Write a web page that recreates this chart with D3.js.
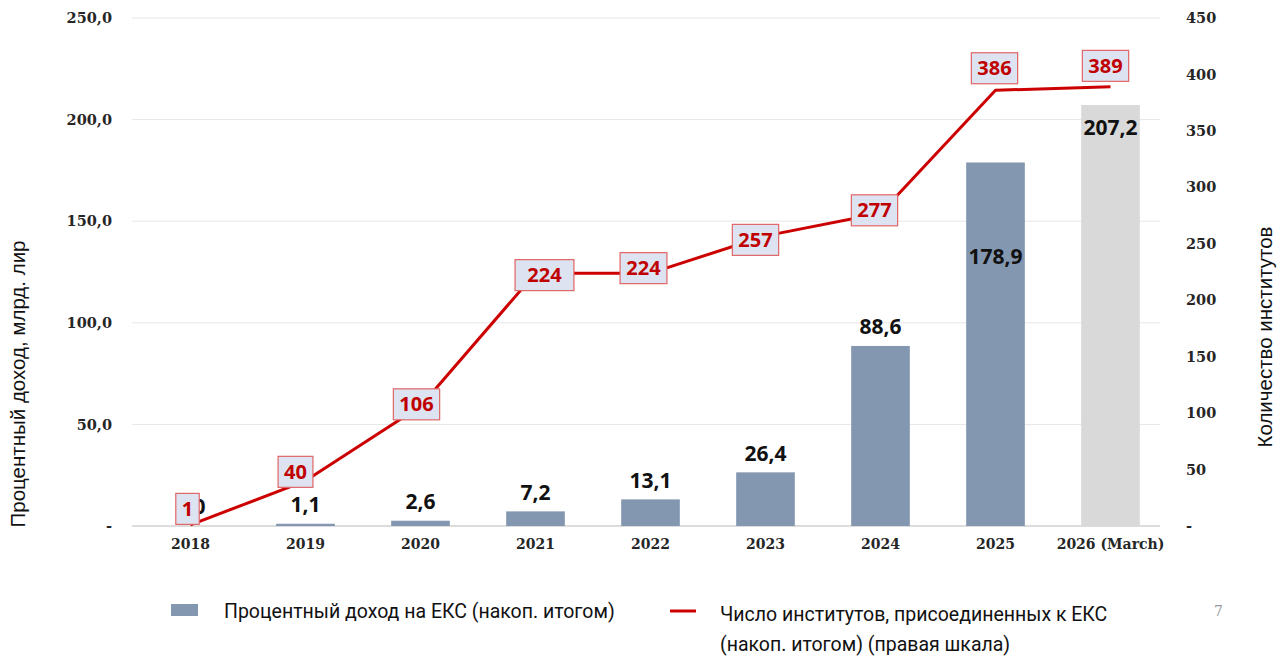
<!DOCTYPE html>
<html>
<head>
<meta charset="utf-8">
<script src="https://cdn.jsdelivr.net/npm/d3@7"></script>
<style>
  body { margin: 0; background: #fff; }
  svg { display: block; }
</style>
</head>
<body>
<svg id="chart" width="1288" height="657"></svg>
<script>
// chart data
const years = ["2018", "2019", "2020", "2021", "2022", "2023", "2024", "2025", "2026 (March)"];
const income = [0.0, 1.1, 2.6, 7.2, 13.1, 26.4, 88.6, 178.9, 207.2];
const institutes = [1, 40, 106, 224, 224, 257, 277, 386, 389];
const leftTicks = [0, 50, 100, 150, 200, 250];
const rightTicks = [0, 50, 100, 150, 200, 250, 300, 350, 400, 450];

// label placement tweaks (layout only)
const barLabelInside = [false, false, false, false, false, false, false, true, true];
const lineLabelShift = [[-3, -16], [-10, -9], [-4, -2], [9, 2], [-7, -5], [-10, 4], [-6, -3], [-1, -22], [-5, -21]];

const svg = d3.select("#chart");
const fmt = v => v === 0 ? "-" : d3.format(".1f")(v).replace(".", ",");

const x = d3.scaleBand().domain(years).range([133, 1168]).paddingInner(0.49).paddingOuter(0.245);
const yL = d3.scaleLinear().domain([0, 250]).range([526, 18]);
const yR = d3.scaleLinear().domain([0, 450]).range([526, 18]);

// gridlines
svg.append("g").selectAll("line").data(leftTicks).join("line")
    .attr("x1", 132).attr("x2", 1160)
    .attr("y1", d => yL(d)).attr("y2", d => yL(d))
    .attr("stroke", d => d === 0 ? "#d0d0d0" : "#e6e6e6")
    .attr("stroke-width", d => d === 0 ? 1.5 : 1);

// left axis
const axL = svg.append("g").attr("transform", "translate(112,0)")
    .call(d3.axisLeft(yL).tickValues(leftTicks).tickSize(0).tickPadding(0).tickFormat(fmt));
axL.select(".domain").remove();
axL.selectAll("text").attr("font-family", "DejaVu Serif").attr("font-weight", "bold")
    .attr("font-size", 14.5).attr("fill", "#262626");

// right axis
const axR = svg.append("g").attr("transform", "translate(1186,0)")
    .call(d3.axisRight(yR).tickValues(rightTicks).tickSize(0).tickPadding(0)
        .tickFormat(d => d === 0 ? "-" : d));
axR.select(".domain").remove();
axR.selectAll("text").attr("font-family", "DejaVu Serif").attr("font-weight", "bold")
    .attr("font-size", 14.5).attr("fill", "#262626");

// x axis
const axX = svg.append("g").attr("transform", "translate(0,539)")
    .call(d3.axisBottom(x).tickSize(0).tickPadding(0));
axX.select(".domain").remove();
axX.selectAll("text").attr("font-family", "DejaVu Serif").attr("font-weight", "bold")
    .attr("font-size", 14).attr("fill", "#262626").attr("dy", "0.71em");

// bars
svg.append("g").selectAll("rect").data(income).join("rect")
    .attr("x", (d, i) => x(years[i]))
    .attr("width", x.bandwidth())
    .attr("y", d => yL(d))
    .attr("height", d => yL(0) - yL(d))
    .attr("fill", (d, i) => i === years.length - 1 ? "#d9d9d9" : "#8497b0");

// bar labels
svg.append("g").selectAll("text").data(income).join("text")
    .attr("x", (d, i) => x(years[i]) + x.bandwidth() / 2)
    .attr("y", (d, i) => {
        if (!barLabelInside[i]) return yL(d) - 19;
        return i === 7 ? yL(d) + 94 : yL(d) + 23;
    })
    .attr("dy", "0.35em")
    .attr("text-anchor", "middle")
    .attr("font-family", "Open Sans").attr("font-weight", "bold").attr("font-size", 21)
    .attr("fill", "#111")
    .text(d => d3.format(".1f")(d).replace(".", ","));

// line
const line = d3.line()
    .x((d, i) => x(years[i]) + x.bandwidth() / 2)
    .y(d => yR(d));
svg.append("path").datum(institutes)
    .attr("d", line)
    .attr("fill", "none").attr("stroke", "#cc0000").attr("stroke-width", 3)
    .attr("stroke-linejoin", "round");

// line labels
const lbl = svg.append("g").selectAll("g").data(institutes).join("g")
    .attr("transform", (d, i) => {
        const cx = x(years[i]) + x.bandwidth() / 2 + lineLabelShift[i][0];
        const cy = yR(d) + lineLabelShift[i][1];
        return `translate(${cx},${cy})`;
    });
lbl.append("text")
    .attr("text-anchor", "middle").attr("dy", "0.35em")
    .attr("font-family", "Open Sans").attr("font-weight", "bold").attr("font-size", 20)
    .attr("fill", "#c00000")
    .text(d => d);
lbl.each(function (d, i) {
    const g = d3.select(this);
    const bb = g.select("text").node().getBBox();
    const w = i === 3 ? bb.width + 24 : bb.width + 12;
    g.insert("rect", "text")
        .attr("x", -w / 2).attr("y", -15.5)
        .attr("width", w).attr("height", 31)
        .attr("fill", "#dde3f0").attr("stroke", "#e06666").attr("stroke-width", 1.2);
});

// axis titles
svg.append("text")
    .attr("transform", "translate(25,384) rotate(-90)")
    .attr("text-anchor", "middle")
    .attr("font-family", "Liberation Sans").attr("font-size", 20.5).attr("fill", "#111")
    .text("Процентный доход, млрд. лир");
svg.append("text")
    .attr("transform", "translate(1272,337) rotate(-90)")
    .attr("text-anchor", "middle")
    .attr("font-family", "Liberation Sans").attr("font-size", 20.5).attr("fill", "#111")
    .text("Количество институтов");

// legend
const leg = svg.append("g").attr("font-family", "Roboto").attr("font-size", 19.5).attr("fill", "#111");
leg.append("rect").attr("x", 171).attr("y", 604).attr("width", 27).attr("height", 12).attr("fill", "#8497b0");
leg.append("text").attr("x", 224).attr("y", 618).text("Процентный доход на ЕКС (накоп. итогом)");
leg.append("line").attr("x1", 670).attr("x2", 696).attr("y1", 611).attr("y2", 611)
    .attr("stroke", "#cc0000").attr("stroke-width", 3);
leg.append("text").attr("x", 720).attr("y", 621).text("Число институтов, присоединенных к ЕКС");
leg.append("text").attr("x", 720).attr("y", 651).text("(накоп. итогом) (правая шкала)");

// page number
svg.append("text").attr("x", 1214).attr("y", 616)
    .attr("font-family", "DejaVu Serif").attr("font-size", 14).attr("fill", "#9a9a9a")
    .text("7");
</script>
</body>
</html>
